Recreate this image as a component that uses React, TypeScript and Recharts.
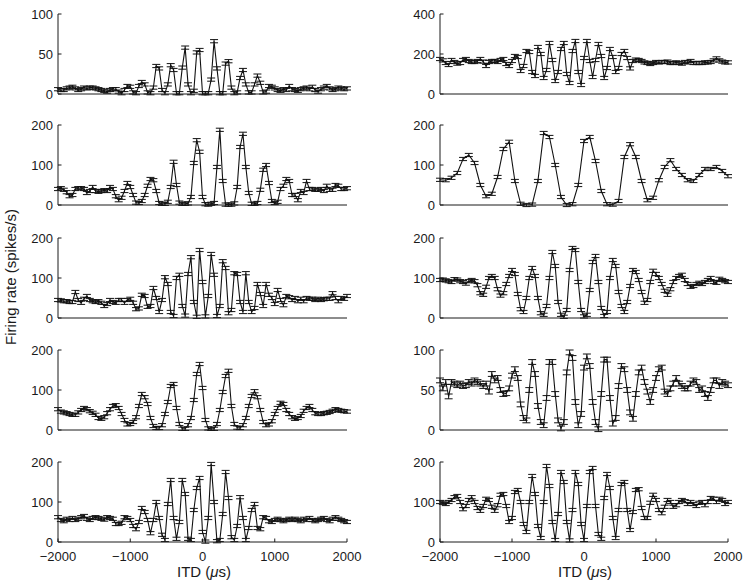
import React from 'react';
import { LineChart, Line, XAxis, YAxis, ErrorBar } from 'recharts';

const FONT = '"Liberation Sans", Arial, Helvetica, sans-serif';

// ITD tick values and labels (µs)
const itdTicks = [-2000, -1000, 0, 1000, 2000];
const itdTickLabels = ['\u22122000', '\u22121000', '0', '1000', '2000'];

// Left column firing rates (spikes/s), ITD from -2000 µs in 40 µs steps
const leftRow1 = [
  6, 5, 5, 7, 8, 9, 7, 5, 6, 8,
  7, 8, 8, 7, 6, 5, 4, 3, 5, 6,
  6, 3, 1, 5, 10, 9, 2, 1, 10, 15,
  12, 2, 1, 8, 35, 32, 5, 1, 12, 36,
  30, 1, 1, 33, 58, 12, 1, 4, 52, 55,
  1, 1, 1, 18, 66, 32, 1, 1, 38, 41,
  8, 1, 2, 20, 30, 12, 2, 2, 12, 23,
  14, 2, 3, 10, 9, 7, 5, 4, 6, 5,
  10, 6, 5, 4, 6, 7, 8, 6, 9, 5,
  3, 6, 8, 10, 7, 5, 6, 8, 7, 6,
  7,
];
const leftRow2 = [
  40, 42, 38, 32, 22, 25, 40, 42, 42, 40,
  30, 35, 45, 35, 33, 35, 37, 35, 45, 40,
  22, 12, 18, 35, 55, 45, 25, 6, 5, 10,
  25, 48, 65, 62, 35, 5, 3, 3, 8, 45,
  108, 50, 6, 3, 3, 4, 20, 105, 162, 133,
  20, 2, 1, 3, 5, 95, 188, 60, 1, 1,
  1, 4, 45, 145, 178, 95, 30, 3, 3, 5,
  38, 88, 100, 55, 10, 5, 8, 40, 48, 65,
  60, 25, 25, 12, 35, 30, 60, 40, 40, 38,
  38, 40, 35, 48, 38, 38, 50, 48, 40, 40,
  42,
];
const leftRow3 = [
  45, 44, 42, 42, 40, 40, 65, 45, 38, 48,
  55, 45, 42, 40, 42, 38, 30, 35, 45, 40,
  38, 45, 45, 38, 45, 48, 38, 22, 24, 58,
  55, 28, 30, 75, 50, 15, 45, 102, 85, 15,
  5, 100, 108, 30, 6, 110, 152, 40, 3, 170,
  90, 4, 55, 160, 108, 5, 30, 142, 125, 12,
  20, 112, 110, 40, 15, 112, 40, 15, 25, 85,
  60, 30, 85, 58, 50, 35, 70, 45, 32, 55,
  52, 45, 50, 42, 48, 42, 50, 48, 48, 45,
  48, 45, 47, 48, 48, 62, 50, 42, 50, 48,
  55,
];
const leftRow4 = [
  52, 46, 44, 42, 40, 38, 38, 44, 50, 55,
  52, 47, 43, 38, 30, 28, 32, 42, 52, 60,
  62, 55, 40, 25, 14, 15, 20, 32, 60, 90,
  82, 65, 30, 10, 5, 5, 12, 40, 70, 110,
  115, 55, 15, 3, 3, 12, 30, 75, 140, 165,
  105, 25, 4, 3, 3, 15, 50, 95, 135, 148,
  60, 15, 6, 5, 12, 30, 60, 85, 97, 82,
  50, 20, 12, 14, 22, 40, 55, 68, 65, 50,
  40, 32, 28, 30, 35, 48, 55, 60, 50, 42,
  40, 40, 42, 43, 45, 48, 52, 50, 48, 47,
  46,
];
const leftRow5 = [
  62, 55, 52, 58, 55, 60, 55, 58, 62, 65,
  58, 55, 60, 62, 60, 58, 56, 62, 60, 58,
  45, 45, 48, 62, 60, 55, 40, 32, 50, 85,
  75, 55, 22, 55, 100, 60, 18, 5, 95, 155,
  60, 8, 50, 155, 120, 8, 5, 80, 135, 160,
  25, 1, 60, 195, 100, 2, 5, 70, 175, 110,
  12, 5, 40, 112, 60, 5, 35, 80, 95, 35,
  32, 62, 60, 52, 50, 55, 58, 55, 52, 55,
  58, 55, 58, 55, 52, 58, 55, 60, 55, 52,
  55, 58, 60, 55, 52, 58, 62, 58, 55, 52,
  50,
];

// Right column firing rates (spikes/s)
const rightRow1 = [
  175, 168, 155, 145, 170, 160, 152, 155, 170, 175,
  165, 160, 160, 165, 175, 162, 140, 160, 165, 165,
  160, 170, 175, 150, 140, 165, 190, 185, 115, 140,
  215, 210, 110, 90, 235, 200, 80, 120, 255, 170,
  65, 110, 225, 255, 100, 55, 215, 265, 110, 45,
  180, 265, 165, 85, 170, 250, 190, 80, 130, 225,
  185, 110, 130, 200, 215, 180, 128, 165, 172, 170,
  165, 158, 155, 150, 155, 160, 158, 160, 160, 162,
  155, 155, 158, 155, 152, 160, 158, 165, 155, 155,
  155, 155, 158, 158, 160, 168, 178, 168, 162, 158,
  158,
];
const rightRow2 = [
  63, 62, 68, 80, 115, 125, 105, 50, 22, 28,
  70, 140, 158, 60, 3, 0, 1, 60, 180, 170,
  100, 20, 0, 2, 50, 160, 170, 110, 35, 2,
  1, 10, 120, 152, 120, 60, 12, 18, 62, 95,
  112, 90, 75, 62, 60, 75, 90, 90, 95, 85,
  72,
];
const rightRow3 = [
  95, 96, 94, 92, 90, 97, 96, 92, 90, 86,
  92, 95, 92, 82, 62, 58, 78, 100, 105, 100,
  72, 56, 62, 85, 105, 120, 110, 60, 22, 15,
  50, 100, 125, 105, 50, 12, 8, 30, 100, 165,
  130, 40, 8, 3, 20, 120, 175, 170, 90, 20,
  4, 8, 70, 140, 155, 90, 25, 5, 15, 100,
  145, 130, 65, 30, 15, 40, 80, 120, 115, 95,
  65, 38, 45, 90, 118, 110, 100, 85, 68, 58,
  72, 90, 100, 105, 108, 95, 85, 78, 80, 85,
  88, 85, 90, 95, 100, 90, 88, 98, 95, 92,
  90,
];
const rightRow4 = [
  62, 52, 60, 42, 60, 58, 56, 58, 55, 56,
  60, 58, 62, 60, 58, 55, 58, 48, 70, 62,
  65, 50, 45, 46, 52, 68, 76, 65, 32, 15,
  12, 50, 85, 70, 30, 10, 6, 40, 85, 85,
  45, 12, 2, 10, 72, 97, 90, 35, 6, 20,
  78, 92, 80, 35, 10, 1, 45, 88, 88, 40,
  8, 15, 55, 80, 76, 50, 22, 14, 45, 72,
  78, 60, 48, 35, 50, 65, 76, 78, 48, 45,
  52, 58, 65, 58, 55, 52, 52, 58, 62, 60,
  50, 52, 45, 40, 50, 62, 62, 55, 60, 58,
  56,
];
const rightRow5 = [
  100, 98, 95, 100, 105, 112, 115, 100, 82, 90,
  105, 112, 100, 85, 78, 90, 108, 105, 88, 78,
  92, 118, 120, 90, 50, 60, 125, 130, 100, 45,
  25, 100, 165, 120, 40, 10, 100, 190, 140, 50,
  5, 70, 175, 150, 50, 4, 80, 175, 145, 45,
  5, 90, 175, 185, 90, 20, 8, 110, 170, 135,
  60, 10, 80, 145, 150, 80, 30, 75, 130, 132,
  85, 60, 60, 98, 118, 105, 80, 72, 88, 105,
  100, 88, 92, 100, 105, 102, 95, 100, 95, 90,
  98, 100, 92, 100, 110, 108, 100, 108, 105, 95,
  100,
];

const leftSeries = [leftRow1, leftRow2, leftRow3, leftRow4, leftRow5];
const rightSeries = [rightRow1, rightRow2, rightRow3, rightRow4, rightRow5];
const leftSteps = [40, 40, 40, 40, 40];
const rightSteps = [40, 80, 40, 40, 40];
const leftYMax = [100, 200, 200, 200, 200];
const rightYMax = [400, 200, 200, 100, 200];
const leftYTicks = [[0, 50, 100], [0, 100, 200], [0, 100, 200], [0, 100, 200], [0, 100, 200]];
const rightYTicks = [[0, 200, 400], [0, 100, 200], [0, 100, 200], [0, 50, 100], [0, 100, 200]];
const leftErr = [2, 4, 4, 4, 4];
const rightErr = [8, 4, 4, 3, 4];

// layout
const ROW_TOPS = [14, 125, 238, 350, 462];
const PLOT_H = 80;
const COL_LEFT = [58, 440];
const PLOT_W = [289, 288];
const Y_AXIS_W = 50;
const M_TOP = 10;
const M_RIGHT = 22;
const X_TICK_GAP = 10;
const INK = '#1a1a1a';

const YTick = (props: any) => {
  const { x, y, payload } = props;
  return (
    <g>
      <line x1={x + 5} x2={x + 8.5} y1={y} y2={y} stroke={INK} strokeWidth={1} />
      <text x={x} y={y} dy="0.36em" textAnchor="end" fontSize={13} fontFamily={FONT} fill={INK}>
        {payload.value}
      </text>
    </g>
  );
};

const XTick = (props: any) => {
  const { x, y, payload } = props;
  const idx = itdTicks.indexOf(payload.value);
  const label = idx >= 0 ? itdTickLabels[idx] : String(payload.value);
  return (
    <g>
      <line x1={x} x2={x} y1={y - X_TICK_GAP} y2={y - X_TICK_GAP - 3.5} stroke={INK} strokeWidth={1} />
      <text x={x} y={y} dy="0.68em" textAnchor="middle" fontSize={13} fontFamily={FONT} fill={INK}>
        {label}
      </text>
    </g>
  );
};

type PanelProps = {
  values: number[];
  step: number;
  yMax: number;
  yTicks: number[];
  err: number;
  col: number;
  row: number;
};

const Panel = ({ values, step, yMax, yTicks, err, col, row }: PanelProps) => {
  const bottom = row === 4;
  const xH = bottom ? 26 : 10;
  const data = values.map((v, i) => ({ itd: -2000 + i * step, rate: v, err }));
  const width = Y_AXIS_W + PLOT_W[col] + M_RIGHT;
  const height = M_TOP + PLOT_H + xH;
  return (
    <div style={{ position: 'absolute', left: COL_LEFT[col] - Y_AXIS_W, top: ROW_TOPS[row] - M_TOP }}>
      <LineChart width={width} height={height} data={data} margin={{ top: M_TOP, right: M_RIGHT, bottom: 0, left: 0 }}>
        <XAxis
          dataKey="itd"
          type="number"
          domain={[-2000, 2000]}
          allowDataOverflow
          ticks={itdTicks}
          height={xH}
          axisLine={{ stroke: INK, strokeWidth: 1 }}
          tickLine={false}
          tickSize={0}
          tickMargin={X_TICK_GAP}
          tick={bottom ? <XTick /> : false}
          interval={0}
        />
        <YAxis
          type="number"
          domain={[0, yMax]}
          allowDataOverflow
          ticks={yTicks}
          width={Y_AXIS_W}
          axisLine={{ stroke: INK, strokeWidth: 1 }}
          tickLine={false}
          tickSize={0}
          tickMargin={5}
          tick={<YTick />}
          interval={0}
        />
        <Line
          dataKey="rate"
          stroke="#111"
          strokeWidth={1.1}
          dot={false}
          isAnimationActive={false}
        >
          <ErrorBar dataKey="err" width={4} stroke="#111" strokeWidth={1} direction="y" isAnimationActive={false} />
        </Line>
      </LineChart>
    </div>
  );
};

export default function App() {
  return (
    <div style={{ position: 'absolute', left: 0, top: 0, width: 750, height: 586, background: '#fff', fontFamily: FONT }}>
      {leftSeries.map((vals, r) => (
        <Panel key={'l' + r} values={vals} step={leftSteps[r]} yMax={leftYMax[r]} yTicks={leftYTicks[r]} err={leftErr[r]} col={0} row={r} />
      ))}
      {rightSeries.map((vals, r) => (
        <Panel key={'r' + r} values={vals} step={rightSteps[r]} yMax={rightYMax[r]} yTicks={rightYTicks[r]} err={rightErr[r]} col={1} row={r} />
      ))}
      <div
        style={{
          position: 'absolute',
          left: 11 - 100,
          top: 277 - 9,
          width: 200,
          height: 18,
          lineHeight: '18px',
          textAlign: 'center',
          fontSize: 15,
          color: INK,
          transform: 'rotate(-90deg)',
          whiteSpace: 'nowrap',
        }}
      >
        Firing rate (spikes/s)
      </div>
      {[204, 585].map((cx, i) => (
        <div
          key={'xl' + i}
          style={{
            position: 'absolute',
            left: cx - 60,
            top: 563,
            width: 120,
            height: 18,
            lineHeight: '18px',
            textAlign: 'center',
            fontSize: 15,
            color: INK,
            whiteSpace: 'nowrap',
          }}
        >
          ITD (<i>μ</i>s)
        </div>
      ))}
    </div>
  );
}
